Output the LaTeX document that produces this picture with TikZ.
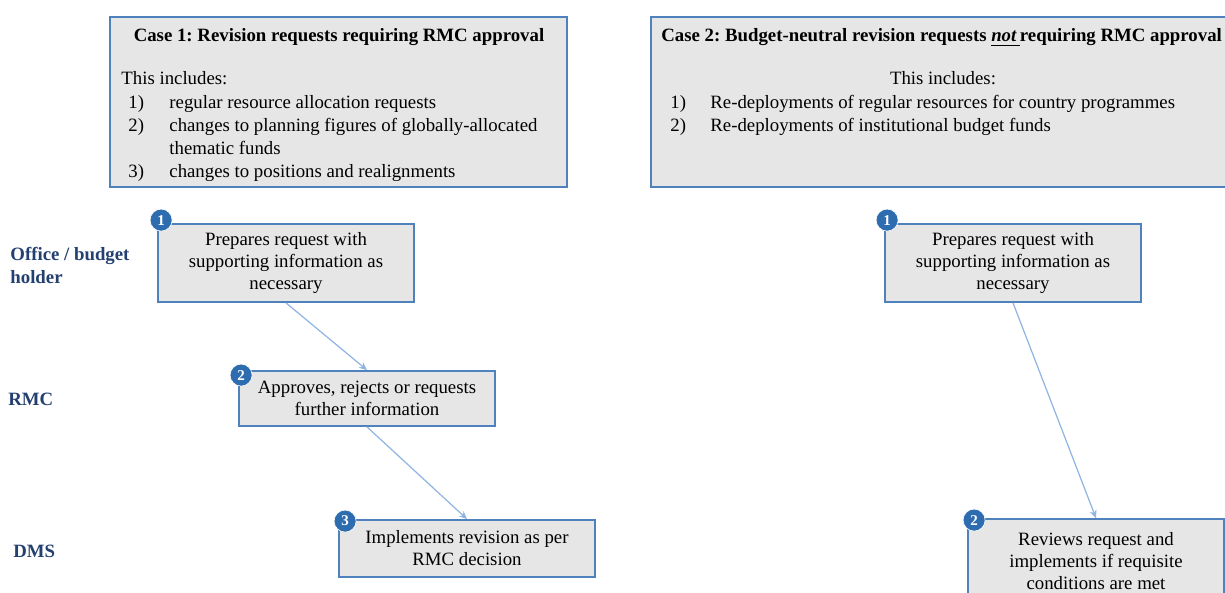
\documentclass[tikz,border=0pt]{standalone}
\usepackage{fontspec}
\setmainfont{Liberation Serif}
\usetikzlibrary{arrows.meta}
\frenchspacing
\definecolor{boxline}{RGB}{79,129,189}
\definecolor{boxfill}{RGB}{231,230,230}
\definecolor{badgeblue}{RGB}{46,108,176}
\definecolor{flow}{RGB}{141,180,226}
\definecolor{lane}{RGB}{36,64,112}
\newcommand\bodyfont{\fontsize{9.4}{11}\selectfont}
\tikzset{
  casebox/.style={draw=boxline, fill=boxfill, line width=0.9pt, inner sep=0pt},
  stepbox/.style={draw=boxline, fill=boxfill, line width=0.9pt, minimum width=128pt,
    align=center, inner sep=0pt, font=\bodyfont},
  badge/.style={circle, fill=badgeblue, draw=white, line width=0.3pt, minimum size=11pt,
    inner sep=0pt, text=white, font=\fontsize{7.5}{7.5}\selectfont\bfseries},
  txt/.style={anchor=base west, inner sep=0pt, font=\bodyfont},
  ttl/.style={anchor=base, inner sep=0pt, font=\bodyfont\bfseries},
  lanelbl/.style={anchor=base west, inner sep=0pt, align=left, text=lane,
    font=\fontsize{9.4}{11.5}\selectfont\bfseries},
  flowarrow/.style={draw=flow, line width=0.6pt, -{Stealth[length=4pt,width=3.5pt]}}
}
\begin{document}
\begin{tikzpicture}[x=0.5pt,y=-0.5pt]
\clip (0,0) rectangle (1225,593);
\fill[white] (0,0) rectangle (1225,593);

% Case 1 panel
\node[casebox, minimum width=228.5pt, minimum height=85pt] (case1) at (338.5,102) {};
\node[ttl] (c1title) at (339,42) {Case 1: Revision requests requiring RMC approval};
\node[txt] (c1inc) at (121,85) {This includes:};
\node[txt] (c1n1) at (128,109) {1)};
\node[txt] (c1i1) at (169,109) {regular resource allocation requests};
\node[txt] (c1n2) at (128,132) {2)};
\node[txt] (c1i2) at (169,132) {changes to planning figures of globally-allocated};
\node[txt] (c1i2b) at (169,155) {thematic funds};
\node[txt] (c1n3) at (128,178) {3)};
\node[txt] (c1i3) at (169,178) {changes to positions and realignments};

% Case 2 panel
\node[casebox, minimum width=300pt, minimum height=85pt] (case2) at (951,102) {};
\node[txt, font=\bodyfont\bfseries] (c2title) at (661,42)
  {Case 2: Budget-neutral revision requests \underline{\textit{not}\,}requiring RMC approval};
\node[ttl, font=\bodyfont] (c2inc) at (943,85) {This includes:};
\node[txt] (c2n1) at (670,109) {1)};
\node[txt] (c2i1) at (710,109) {Re-deployments of regular resources for country programmes};
\node[txt] (c2n2) at (670,132) {2)};
\node[txt] (c2i2) at (710,132) {Re-deployments of institutional budget funds};

% Swimlane labels
\node[lanelbl] (laneoffice) at (10,284) {Office / budget\\holder};
\node[lanelbl] (lanermc) at (8,405) {RMC};
\node[lanelbl] (lanedms) at (13,557) {DMS};

% Case 1 steps
\node[stepbox, minimum height=39pt] (L1) at (286,263)
  {Prepares request with\\supporting information as\\necessary};
\node[stepbox, minimum height=27.5pt] (L2) at (367,398.5)
  {Approves, rejects or requests\\further information};
\node[stepbox, minimum height=28.5pt] (L3) at (467,548.5)
  {Implements revision as per\\RMC decision};

% Case 2 steps
\node[stepbox, minimum height=39pt] (R1) at (1013,263)
  {Prepares request with\\supporting information as\\necessary};
\node[stepbox, minimum height=42pt] (R2) at (1096,561)
  {Reviews request and\\implements if requisite\\conditions are met};

% Flow arrows
\draw[flowarrow] (L1.south) -- (L2.north);
\draw[flowarrow] (L2.south) -- (L3.north);
\draw[flowarrow] (R1.south) -- (R2.north);

% Step badges
\node[badge] (bL1) at ([shift={(4,-3)}]L1.north west) {1};
\node[badge] (bL2) at ([shift={(3,5)}]L2.north west) {2};
\node[badge] (bL3) at ([shift={(7,2)}]L3.north west) {3};
\node[badge] (bR1) at ([shift={(3,-3)}]R1.north west) {1};
\node[badge] (bR2) at ([shift={(7,2)}]R2.north west) {2};
\end{tikzpicture}
\end{document}
